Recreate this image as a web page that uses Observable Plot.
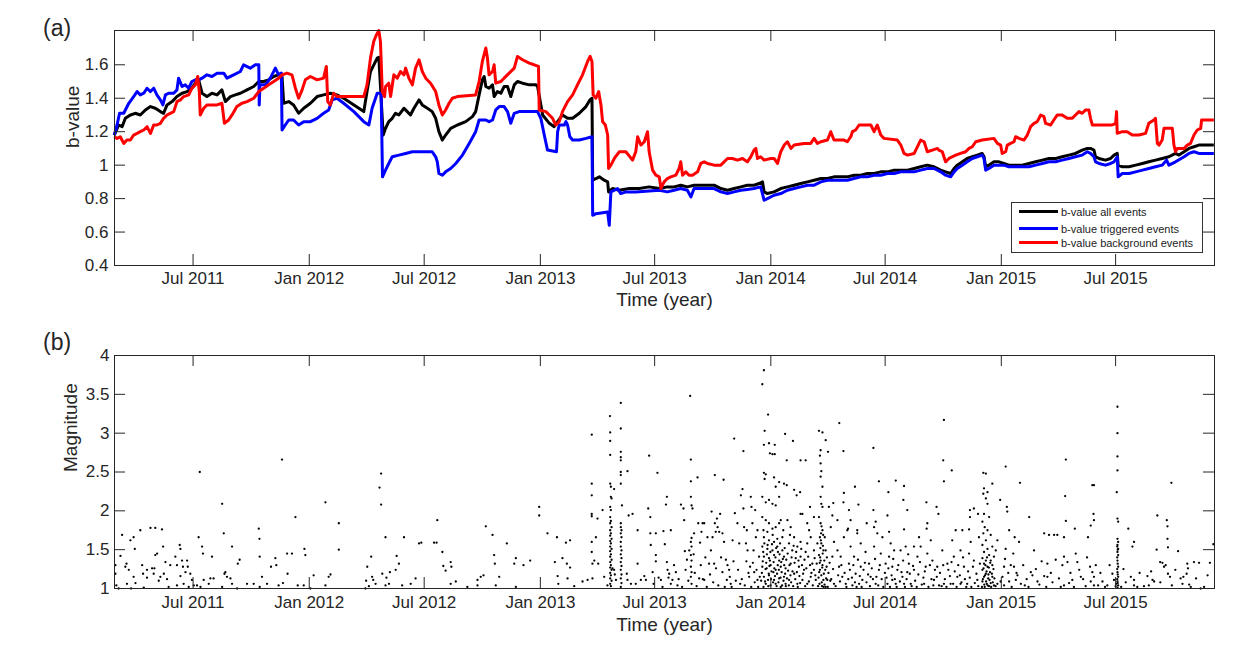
<!DOCTYPE html>
<html><head><meta charset="utf-8">
<script src="https://cdn.jsdelivr.net/npm/d3@7"></script>
<script src="https://cdn.jsdelivr.net/npm/@observablehq/plot@0.6"></script>
<style>
body{margin:0;background:#fff;overflow:hidden;}
#wrap{position:relative;width:1236px;height:658px;font-family:"Liberation Sans",Arial,sans-serif;color:#262626;background:#fff;}
#wrap svg{position:absolute;left:0;display:block;}
.plabel{position:absolute;font-size:23px;line-height:23px;left:43px;}
#legend{position:absolute;left:1011px;top:202px;width:190px;height:49px;border:1px solid #333;background:#fff;font-size:11px;}
#legend .row{position:absolute;left:0;height:14px;}
#legend .sw{position:absolute;left:7px;top:5px;width:39px;height:3px;}
#legend .tx{position:absolute;left:49px;top:0;line-height:14px;white-space:nowrap;color:#222;}
</style></head><body><div id="wrap"></div>
<script>
// ---------- data ----------
const xTickLabels = ["Jul 2011","Jan 2012","Jul 2012","Jan 2013","Jul 2013","Jan 2014","Jul 2014","Jan 2015","Jul 2015"];
const bTicks = [0.4,0.6,0.8,1,1.2,1.4,1.6];
const bTickLabels = ["0.4","0.6","0.8","1","1.2","1.4","1.6"];
const magTicks = [1,1.5,2,2.5,3,3.5,4];
const magTickLabels = ["1","1.5","2","2.5","3","3.5","4"];
const seriesNames = ["b-value all events","b-value triggered events","b-value background events"];
const seriesColors = ["#000000","#0000ff","#ff0000"];

// [decimal year, b-value]
const allEvents = [[2011.154,1.18],[2011.173,1.24],[2011.188,1.23],[2011.202,1.28],[2011.224,1.30],[2011.245,1.31],[2011.267,1.30],[2011.289,1.33],[2011.311,1.35],[2011.332,1.34],[2011.354,1.32],[2011.368,1.31],[2011.383,1.36],[2011.405,1.38],[2011.426,1.41],[2011.448,1.43],[2011.470,1.44],[2011.491,1.46],[2011.506,1.49],[2011.520,1.51],[2011.535,1.43],[2011.556,1.41],[2011.578,1.43],[2011.600,1.42],[2011.621,1.45],[2011.636,1.38],[2011.658,1.41],[2011.679,1.42],[2011.701,1.43],[2011.730,1.45],[2011.759,1.47],[2011.781,1.50],[2011.802,1.50],[2011.824,1.51],[2011.846,1.53],[2011.867,1.54],[2011.882,1.53],[2011.889,1.37],[2011.911,1.38],[2011.932,1.36],[2011.954,1.31],[2011.976,1.34],[2012.005,1.37],[2012.034,1.41],[2012.062,1.42],[2012.091,1.43],[2012.120,1.42],[2012.149,1.40],[2012.236,1.32],[2012.250,1.44],[2012.265,1.56],[2012.294,1.64],[2012.301,1.645],[2012.320,1.18],
[2012.330,1.22],[2012.344,1.26],[2012.359,1.28],[2012.373,1.31],[2012.388,1.30],[2012.410,1.34],[2012.424,1.32],[2012.438,1.30],[2012.453,1.34],[2012.475,1.39],[2012.489,1.36],[2012.511,1.34],[2012.532,1.32],[2012.547,1.28],[2012.561,1.20],[2012.576,1.15],[2012.590,1.18],[2012.612,1.22],[2012.641,1.24],[2012.677,1.26],[2012.706,1.29],[2012.720,1.32],[2012.735,1.42],[2012.749,1.51],[2012.757,1.53],[2012.764,1.47],[2012.778,1.46],[2012.793,1.48],[2012.800,1.41],[2012.814,1.44],[2012.829,1.43],[2012.843,1.47],[2012.858,1.47],[2012.872,1.41],[2012.887,1.48],[2012.901,1.50],[2012.923,1.49],[2012.952,1.48],[2012.981,1.48],[2012.988,1.47],[2013.010,1.30],[2013.039,1.25],[2013.060,1.23],[2013.075,1.26],[2013.096,1.30],[2013.118,1.28],[2013.140,1.28],[2013.169,1.31],[2013.198,1.35],[2013.215,1.39],[2013.224,1.40],[2013.227,0.91],[2013.241,0.92],[2013.256,0.93],[2013.277,0.91],[2013.292,0.90],[2013.296,0.84],[2013.313,0.86],[2013.342,0.85],[2013.386,0.86],[2013.429,0.86],[2013.472,0.87],[2013.516,0.86],
[2013.551,0.87],[2013.580,0.87],[2013.609,0.88],[2013.638,0.87],[2013.667,0.88],[2013.696,0.88],[2013.725,0.88],[2013.754,0.88],[2013.783,0.86],[2013.812,0.85],[2013.841,0.86],[2013.870,0.87],[2013.898,0.88],[2013.927,0.88],[2013.949,0.89],[2013.964,0.90],[2013.971,0.84],[2013.985,0.83],[2014.014,0.84],[2014.043,0.86],[2014.072,0.87],[2014.101,0.88],[2014.130,0.89],[2014.159,0.90],[2014.188,0.91],[2014.217,0.92],[2014.246,0.92],[2014.274,0.93],[2014.303,0.93],[2014.332,0.93],[2014.361,0.94],[2014.390,0.94],[2014.419,0.95],[2014.448,0.95],[2014.477,0.96],[2014.506,0.96],[2014.535,0.97],[2014.564,0.97],[2014.593,0.97],[2014.622,0.98],[2014.650,0.99],[2014.679,1.00],[2014.708,0.99],
[2014.737,0.97],[2014.758,0.96],[2014.780,0.95],[2014.795,0.98],[2014.809,1.00],[2014.831,1.02],[2014.852,1.04],[2014.874,1.05],[2014.896,1.06],[2014.917,1.07],[2014.925,1.05],[2014.932,0.99],[2014.946,1.00],[2014.968,1.02],[2014.990,1.02],[2015.011,1.01],[2015.033,1.00],[2015.062,1.00],[2015.091,1.00],[2015.120,1.01],[2015.149,1.02],[2015.178,1.03],[2015.207,1.04],[2015.236,1.04],[2015.264,1.05],[2015.293,1.06],[2015.322,1.07],[2015.351,1.09],[2015.373,1.10],[2015.387,1.10],[2015.402,1.09],[2015.409,1.05],[2015.424,1.04],[2015.452,1.03],[2015.474,1.04],[2015.489,1.06],[2015.503,1.07],[2015.507,1.00],[2015.525,0.99],[2015.554,0.99],[2015.583,1.00],[2015.612,1.01],[2015.640,1.02],[2015.669,1.03],[2015.698,1.04],[2015.727,1.05],[2015.756,1.07],[2015.771,1.06],[2015.793,1.08],[2015.814,1.10],[2015.836,1.11],[2015.857,1.12],[2015.886,1.12],[2015.922,1.12]];

const triggeredEvents = [[2011.154,1.18],[2011.166,1.24],[2011.177,1.31],[2011.195,1.31],[2011.217,1.37],[2011.238,1.41],[2011.253,1.44],[2011.267,1.42],[2011.282,1.43],[2011.296,1.46],[2011.311,1.44],[2011.325,1.46],[2011.339,1.42],[2011.354,1.39],[2011.365,1.36],[2011.376,1.42],[2011.390,1.43],[2011.412,1.43],[2011.426,1.45],[2011.433,1.52],[2011.448,1.47],[2011.462,1.48],[2011.477,1.46],[2011.491,1.50],[2011.506,1.51],[2011.520,1.51],[2011.535,1.52],[2011.556,1.54],[2011.578,1.53],[2011.600,1.55],[2011.629,1.55],[2011.643,1.52],[2011.672,1.54],[2011.701,1.56],[2011.715,1.60],[2011.744,1.58],[2011.766,1.60],[2011.781,1.60],[2011.783,1.36],[2011.786,1.48],[2011.810,1.48],[2011.831,1.52],[2011.853,1.58],[2011.867,1.54],[2011.879,1.55],[2011.882,1.21],[2011.896,1.24],[2011.911,1.27],[2011.932,1.27],[2011.954,1.24],[2011.976,1.26],[2012.005,1.26],[2012.034,1.28],[2012.062,1.31],[2012.084,1.33],[2012.099,1.39],[2012.120,1.40],[2012.149,1.37],[2012.193,1.32],[2012.236,1.26],[2012.258,1.24],[2012.272,1.34],[2012.294,1.43],[2012.311,1.43],[2012.317,0.93],
[2012.330,0.97],[2012.344,1.01],[2012.359,1.05],[2012.388,1.06],[2012.417,1.07],[2012.446,1.08],[2012.532,1.08],[2012.547,1.05],[2012.554,1.02],[2012.561,0.95],[2012.576,0.94],[2012.590,0.96],[2012.612,0.98],[2012.634,1.01],[2012.663,1.06],[2012.692,1.13],[2012.720,1.20],[2012.735,1.27],[2012.764,1.27],[2012.778,1.26],[2012.793,1.27],[2012.807,1.33],[2012.822,1.35],[2012.843,1.35],[2012.858,1.32],[2012.872,1.25],[2012.887,1.31],[2012.908,1.32],[2012.952,1.32],[2012.988,1.32],[2013.002,1.28],[2013.017,1.18],[2013.031,1.09],[2013.070,1.08],[2013.075,1.20],[2013.082,1.24],[2013.104,1.24],[2013.111,1.26],[2013.118,1.24],[2013.128,1.17],[2013.140,1.15],[2013.169,1.15],[2013.198,1.16],[2013.224,1.17],[2013.227,0.70],[2013.241,0.71],[2013.292,0.72],[2013.299,0.64],[2013.306,0.84],[2013.321,0.85],[2013.335,0.86],[2013.349,0.83],[2013.371,0.84],[2013.414,0.84],[2013.472,0.845],[2013.516,0.85],
[2013.551,0.84],[2013.580,0.85],[2013.609,0.86],[2013.638,0.85],[2013.653,0.81],[2013.667,0.86],[2013.696,0.86],[2013.754,0.86],[2013.783,0.84],[2013.812,0.83],[2013.841,0.84],[2013.870,0.85],[2013.898,0.855],[2013.927,0.86],[2013.956,0.87],[2013.971,0.79],[2013.985,0.80],[2014.014,0.82],[2014.043,0.83],[2014.072,0.85],[2014.101,0.86],[2014.130,0.87],[2014.159,0.88],[2014.188,0.88],[2014.217,0.90],[2014.246,0.91],[2014.303,0.91],[2014.332,0.91],[2014.361,0.92],[2014.390,0.93],[2014.419,0.93],[2014.448,0.94],[2014.477,0.94],[2014.506,0.95],[2014.535,0.95],[2014.564,0.96],[2014.593,0.96],[2014.622,0.96],[2014.650,0.97],[2014.679,0.98],[2014.708,0.98],
[2014.737,0.96],[2014.758,0.94],[2014.780,0.93],[2014.795,0.96],[2014.809,0.98],[2014.831,1.00],[2014.852,1.02],[2014.874,1.04],[2014.896,1.05],[2014.917,1.06],[2014.925,1.04],[2014.932,0.97],[2014.946,0.98],[2014.968,1.00],[2014.990,1.00],[2015.011,1.00],[2015.033,0.99],[2015.091,0.99],[2015.120,0.99],[2015.149,1.00],[2015.178,1.01],[2015.207,1.02],[2015.236,1.02],[2015.264,1.03],[2015.293,1.04],[2015.322,1.05],[2015.351,1.06],[2015.373,1.08],[2015.387,1.07],[2015.402,1.05],[2015.409,1.02],[2015.424,1.01],[2015.452,1.00],[2015.474,1.01],[2015.489,1.02],[2015.503,1.05],[2015.507,0.93],[2015.525,0.95],[2015.554,0.95],[2015.583,0.96],[2015.612,0.97],[2015.640,0.98],[2015.669,0.99],[2015.698,1.00],[2015.717,1.03],[2015.727,1.00],[2015.756,1.02],[2015.793,1.05],[2015.814,1.07],[2015.836,1.08],[2015.857,1.07],[2015.922,1.07]];

const backgroundEvents = [[2011.154,1.17],[2011.166,1.16],[2011.180,1.17],[2011.195,1.13],[2011.209,1.15],[2011.224,1.15],[2011.238,1.18],[2011.253,1.19],[2011.267,1.20],[2011.282,1.21],[2011.296,1.23],[2011.311,1.19],[2011.325,1.24],[2011.339,1.24],[2011.354,1.25],[2011.368,1.28],[2011.383,1.30],[2011.397,1.31],[2011.412,1.32],[2011.426,1.38],[2011.441,1.39],[2011.455,1.41],[2011.477,1.42],[2011.491,1.46],[2011.506,1.48],[2011.516,1.53],[2011.523,1.44],[2011.527,1.30],[2011.542,1.34],[2011.556,1.36],[2011.600,1.36],[2011.621,1.37],[2011.632,1.25],[2011.650,1.27],[2011.665,1.30],[2011.686,1.35],[2011.708,1.37],[2011.730,1.38],[2011.759,1.40],[2011.781,1.44],[2011.802,1.46],[2011.824,1.48],[2011.846,1.50],[2011.867,1.52],[2011.882,1.54],[2011.903,1.55],[2011.925,1.54],[2011.940,1.46],[2011.954,1.40],[2011.969,1.45],[2011.983,1.51],[2012.005,1.53],[2012.034,1.51],[2012.062,1.52],[2012.074,1.59],[2012.080,1.38],[2012.091,1.36],[2012.106,1.43],[2012.120,1.41],[2012.236,1.41],[2012.250,1.48],[2012.265,1.64],[2012.279,1.74],[2012.291,1.78],[2012.301,1.805],[2012.308,1.74],[2012.316,1.44],[2012.326,1.41],
[2012.330,1.47],[2012.344,1.49],[2012.352,1.41],[2012.366,1.54],[2012.381,1.52],[2012.395,1.56],[2012.410,1.54],[2012.417,1.58],[2012.431,1.52],[2012.446,1.48],[2012.460,1.58],[2012.475,1.63],[2012.489,1.56],[2012.504,1.52],[2012.525,1.49],[2012.547,1.44],[2012.561,1.36],[2012.576,1.30],[2012.590,1.33],[2012.605,1.37],[2012.619,1.40],[2012.641,1.41],[2012.720,1.42],[2012.735,1.50],[2012.749,1.62],[2012.764,1.70],[2012.771,1.64],[2012.778,1.54],[2012.793,1.56],[2012.800,1.60],[2012.807,1.49],[2012.829,1.50],[2012.843,1.52],[2012.865,1.55],[2012.887,1.58],[2012.901,1.65],[2012.923,1.63],[2012.952,1.61],[2012.973,1.60],[2012.992,1.59],[2012.995,1.33],[2013.024,1.32],[2013.053,1.28],[2013.067,1.24],[2013.082,1.26],[2013.096,1.32],[2013.118,1.38],[2013.140,1.42],[2013.161,1.48],[2013.183,1.54],[2013.205,1.62],[2013.216,1.65],[2013.224,1.62],[2013.229,1.42],[2013.241,1.40],[2013.253,1.44],[2013.263,1.36],[2013.270,1.26],[2013.282,1.24],[2013.292,1.18],[2013.296,0.98],[2013.306,1.00],[2013.321,1.04],[2013.342,1.08],[2013.371,1.08],[2013.400,1.03],[2013.414,1.08],[2013.422,1.17],[2013.436,1.12],[2013.451,1.14],[2013.465,1.20],[2013.472,1.08],[2013.487,0.97],[2013.501,0.94],[2013.516,0.93],[2013.523,0.86],
[2013.537,0.90],[2013.551,0.92],[2013.566,0.93],[2013.588,0.94],[2013.602,0.98],[2013.609,1.02],[2013.617,0.94],[2013.631,0.96],[2013.645,0.94],[2013.660,0.94],[2013.682,0.96],[2013.696,1.01],[2013.711,1.02],[2013.725,1.01],[2013.754,1.00],[2013.783,1.00],[2013.812,1.04],[2013.833,1.04],[2013.855,1.03],[2013.877,1.04],[2013.898,1.02],[2013.913,1.05],[2013.927,1.09],[2013.935,1.10],[2013.942,1.04],[2013.956,1.05],[2013.971,1.03],[2014.000,1.04],[2014.014,1.04],[2014.029,1.01],[2014.043,1.08],[2014.058,1.12],[2014.072,1.14],[2014.087,1.10],[2014.101,1.12],[2014.144,1.13],[2014.173,1.13],[2014.188,1.16],[2014.202,1.13],[2014.217,1.14],[2014.246,1.15],[2014.260,1.20],[2014.274,1.15],[2014.318,1.15],[2014.332,1.14],[2014.347,1.17],[2014.354,1.20],[2014.368,1.21],[2014.383,1.24],[2014.434,1.24],[2014.448,1.20],[2014.462,1.24],[2014.477,1.18],[2014.491,1.16],[2014.549,1.15],[2014.564,1.12],[2014.578,1.07],[2014.593,1.06],[2014.622,1.07],[2014.650,1.15],[2014.665,1.14],[2014.679,1.08],[2014.701,1.09],[2014.723,1.10],
[2014.729,1.09],[2014.744,1.08],[2014.758,1.02],[2014.773,1.04],[2014.787,1.05],[2014.802,1.06],[2014.823,1.07],[2014.845,1.08],[2014.860,1.10],[2014.874,1.11],[2014.889,1.14],[2014.917,1.15],[2014.968,1.16],[2014.983,1.13],[2014.997,1.12],[2015.004,1.07],[2015.019,1.08],[2015.026,1.12],[2015.040,1.13],[2015.055,1.14],[2015.062,1.17],[2015.077,1.16],[2015.098,1.15],[2015.113,1.18],[2015.127,1.23],[2015.142,1.25],[2015.156,1.26],[2015.171,1.30],[2015.185,1.29],[2015.192,1.25],[2015.214,1.24],[2015.228,1.27],[2015.243,1.30],[2015.264,1.30],[2015.286,1.28],[2015.308,1.28],[2015.322,1.30],[2015.337,1.32],[2015.351,1.31],[2015.366,1.33],[2015.380,1.33],[2015.387,1.28],[2015.395,1.24],[2015.481,1.24],[2015.496,1.25],[2015.500,1.32],[2015.503,1.19],[2015.525,1.20],[2015.546,1.20],[2015.568,1.18],[2015.597,1.18],[2015.626,1.19],[2015.640,1.25],[2015.662,1.27],[2015.669,1.28],[2015.677,1.13],[2015.684,1.12],[2015.698,1.15],[2015.706,1.22],[2015.742,1.22],[2015.749,1.12],[2015.756,1.08],[2015.763,1.10],[2015.793,1.10],[2015.807,1.12],[2015.821,1.13],[2015.836,1.18],[2015.850,1.21],[2015.865,1.22],[2015.869,1.27],[2015.922,1.27]];

// [decimal year, magnitude]
const quakes = [
[2011.159,1.30],[2011.159,1.19],[2011.163,1.04],[2011.173,1.00],[2011.188,1.69],[2011.181,1.42],[2011.202,1.28],[2011.207,1.32],[2011.209,1.06],[2011.217,1.24],[2011.224,1.62],[2011.227,1.00],[2011.238,1.66],[2011.238,1.15],[2011.243,1.51],[2011.246,1.07],[2011.267,1.75],[2011.275,1.30],[2011.279,1.19],[2011.282,1.01],[2011.296,1.24],[2011.296,1.14],[2011.311,1.78],[2011.318,1.26],[2011.325,1.19],[2011.328,1.26],[2011.332,1.78],[2011.361,1.76],[2011.332,1.43],[2011.340,1.45],[2011.347,1.10],[2011.354,1.15],[2011.366,1.54],[2011.369,1.19],[2011.376,1.34],[2011.383,1.12],[2011.390,1.02],[2011.397,1.30],[2011.419,1.41],[2011.426,1.30],[2011.426,1.04],[2011.438,1.56],[2011.441,1.51],[2011.441,1.16],[2011.448,1.36],[2011.452,1.28],[2011.455,1.06],[2011.463,1.21],[2011.470,1.36],[2011.473,1.28],[2011.477,1.02],[2011.484,1.19],[2011.491,1.11],[2011.499,1.04],[2011.513,1.04],[2011.520,1.66],[2011.525,2.50],[2011.528,1.02],[2011.535,1.54],[2011.539,1.45],[2011.542,1.11],[2011.564,1.06],[2011.571,1.13],[2011.578,1.41],[2011.585,1.13],[2011.622,2.09],[2011.622,1.02],[2011.629,1.71],[2011.632,1.19],[2011.636,1.21],[2011.643,1.15],[2011.658,1.13],[2011.665,1.54],[2011.665,1.06],[2011.687,1.00],[2011.690,1.32],[2011.698,1.37],[2011.730,1.06],[2011.759,1.06],[2011.781,1.77],[2011.784,1.64],[2011.785,1.41],[2011.785,1.02],[2011.795,1.15],[2011.817,1.06],[2011.834,1.28],[2011.853,1.39],[2011.857,1.30],[2011.867,1.04],[2011.882,2.66],[2011.886,1.07],[2011.904,1.45],[2011.906,1.19],[2011.925,1.45],[2011.940,1.92],[2011.950,1.04],[2011.976,1.04],[2011.979,1.51],[2011.983,1.43],[2012.005,1.00],[2012.019,1.17],[2012.070,2.11],[2012.070,1.04],[2012.084,1.15],[2012.092,1.18],[2012.128,1.84],[2012.128,1.50],[2012.243,1.00],[2012.246,1.10],[2012.251,1.28],[2012.258,1.03],[2012.268,1.41],[2012.272,1.15],[2012.277,1.11],[2012.287,1.06],[2012.304,2.30],[2012.311,2.48],[2012.311,2.08],[2012.316,1.19],[2012.330,1.66],[2012.330,1.04],[2012.334,1.14],[2012.345,1.06],[2012.349,1.21],[2012.374,1.24],[2012.378,1.42],[2012.388,1.32],[2012.402,1.04],[2012.410,1.66],[2012.439,1.06],[2012.460,1.13],[2012.475,1.58],
[2012.485,1.59],[2012.540,1.59],[2012.551,1.59],[2012.554,1.88],[2012.576,1.47],[2012.580,1.29],[2012.590,1.23],[2012.612,1.34],[2012.615,1.28],[2012.612,1.06],[2012.634,1.09],[2012.684,1.02],[2012.728,1.04],[2012.728,1.11],[2012.742,1.15],[2012.754,1.17],[2012.764,1.80],[2012.793,1.69],[2012.800,1.43],[2012.803,1.32],[2012.807,1.04],[2012.822,1.15],[2012.855,1.58],[2012.887,1.32],[2012.894,1.39],[2012.894,1.02],[2012.927,1.30],[2012.956,1.36],[2012.995,2.05],[2012.995,1.94],[2013.031,1.71],[2013.063,1.34],[2013.072,1.66],[2013.075,1.16],[2013.078,1.06],
[2013.096,1.39],[2013.111,1.59],[2013.129,1.62],[2013.115,1.32],[2013.129,1.27],[2013.118,1.13],[2013.147,1.03],[2013.183,1.09],[2013.205,1.11],[2013.226,1.13],[2013.223,2.98],[2013.223,2.35],[2013.223,2.20],[2013.223,1.96],[2013.223,1.93],[2013.223,1.60],[2013.223,1.47],[2013.226,1.32],[2013.234,1.36],[2013.241,1.66],[2013.248,1.90],[2013.251,1.32],[2013.270,2.01],[2013.277,1.15],[2013.291,1.04],
[2013.302,3.22],[2013.303,3.01],[2013.303,2.90],[2013.303,2.72],[2013.303,2.35],[2013.306,2.31],[2013.306,2.18],[2013.309,2.16],[2013.303,2.05],[2013.306,2.01],[2013.303,1.92],[2013.306,1.87],[2013.303,1.84],[2013.309,1.79],[2013.303,1.75],[2013.306,1.71],[2013.303,1.68],[2013.309,1.64],[2013.303,1.61],[2013.306,1.58],[2013.303,1.54],[2013.309,1.51],[2013.303,1.48],[2013.306,1.44],[2013.303,1.41],[2013.309,1.37],[2013.303,1.34],[2013.306,1.30],[2013.303,1.27],[2013.309,1.24],[2013.303,1.20],[2013.306,1.17],[2013.303,1.13],[2013.309,1.10],[2013.303,1.06],[2013.306,1.03],[2013.313,1.26],[2013.320,1.24],[2013.328,1.11],[2013.323,1.18],[2013.320,2.28],
[2013.349,3.39],[2013.349,3.06],[2013.349,2.76],[2013.349,2.69],[2013.349,2.65],[2013.349,2.50],[2013.349,2.46],[2013.349,2.35],[2013.354,2.07],[2013.349,1.84],[2013.349,1.79],[2013.352,1.75],[2013.349,1.71],[2013.352,1.66],[2013.349,1.60],[2013.349,1.54],[2013.352,1.49],[2013.349,1.44],[2013.352,1.39],[2013.349,1.34],[2013.352,1.29],[2013.349,1.24],[2013.352,1.18],[2013.349,1.13],[2013.352,1.07],[2013.349,1.02],
[2013.378,2.51],[2013.383,1.94],[2013.400,1.96],[2013.375,1.19],[2013.378,1.11],[2013.393,1.06],[2013.414,1.06],[2013.422,1.75],[2013.422,1.32],[2013.436,1.11],[2013.451,1.16],[2013.458,1.11],[2013.468,2.03],[2013.472,2.71],[2013.477,1.92],[2013.477,1.71],[2013.479,1.56],[2013.487,1.21],[2013.491,1.06],[2013.501,1.71],[2013.501,1.43],[2013.501,1.35],[2013.508,2.49],[2013.513,1.14],[2013.523,1.11],[2013.534,1.74],[2013.540,1.57],[2013.549,2.18],[2013.545,2.08],[2013.549,1.34],[2013.552,1.24],[2013.559,1.19],[2013.566,1.75],[2013.566,1.06],[2013.573,1.11],[2013.588,1.21],[2013.595,1.04],[2013.610,2.08],[2013.621,2.03],[2013.624,1.88],[2013.627,1.48],[2013.636,1.37],[2013.646,1.49],
[2013.650,3.48],[2013.653,2.66],[2013.653,2.38],[2013.653,2.18],[2013.656,2.07],[2013.660,2.03],[2013.656,1.65],[2013.653,1.60],[2013.656,1.54],[2013.653,1.43],[2013.656,1.36],[2013.653,1.28],[2013.656,1.21],[2013.653,1.15],[2013.656,1.06],[2013.665,1.44],[2013.667,1.71],[2013.682,2.43],[2013.685,1.84],[2013.689,1.13],[2013.693,1.59],[2013.699,1.73],[2013.704,1.84],[2013.711,1.84],[2013.711,1.11],[2013.725,1.66],[2013.732,1.32],[2013.740,1.49],[2013.743,1.99],[2013.747,1.66],[2013.754,1.32],[2013.757,1.84],[2013.757,2.46],[2013.761,1.73],[2013.766,1.90],[2013.769,1.79],[2013.776,1.73],[2013.780,1.96],[2013.790,1.71],[2013.790,1.21],[2013.795,2.40],[2013.797,1.60],[2013.805,1.37],[2013.809,1.11],[2013.819,1.24],[2013.826,1.06],[2013.834,1.62],[2013.841,2.93],[2013.844,1.97],[2013.855,1.84],[2013.863,1.58],[2013.867,1.06],[2013.870,2.20],[2013.877,2.28],[2013.881,2.03],[2013.881,2.77],[2013.884,1.79],[2013.892,1.58],[2013.896,1.75],[2013.899,1.49],[2013.906,1.15],[2013.910,1.28],[2013.913,2.18],[2013.916,2.05],[2013.920,1.84],[2013.925,1.49],[2013.928,1.21],[2013.932,2.01],[2013.935,1.66],[2013.942,1.75],[2013.942,1.11],[2013.949,1.41],
[2013.530,1.02],[2013.556,1.14],[2013.580,1.30],[2013.600,1.12],[2013.615,1.02],[2013.630,1.24],[2013.642,1.10],[2013.670,1.20],[2013.678,1.03],[2013.696,1.30],[2013.705,1.12],[2013.716,1.40],[2013.722,1.02],[2013.736,1.18],[2013.750,1.08],[2013.762,1.26],[2013.772,1.04],[2013.784,1.40],[2013.800,1.02],[2013.812,1.30],[2013.822,1.15],[2013.830,1.02],[2013.838,1.35],[2013.848,1.10],[2013.858,1.24],[2013.874,1.12],[2013.887,1.04],[2013.894,1.35],[2013.903,1.20],[2013.915,1.02],[2013.922,1.33],[2013.930,1.08],[2013.938,1.24],[2013.945,1.02],[2013.952,1.15],
[2013.970,3.81],[2013.963,3.63],[2013.988,3.24],[2013.973,3.03],[2013.970,2.85],[2013.992,2.87],[2014.017,2.85],[2013.996,2.74],[2014.007,2.73],[2014.017,2.73],[2014.062,2.99],[2014.096,2.90],[2014.069,2.65],[2014.129,2.65],[2014.151,2.65],[2014.209,3.03],[2014.224,3.01],[2014.238,2.91],[2014.216,2.78],[2014.248,2.76],[2014.213,2.71],[2014.297,3.13],[2014.315,2.77],[2014.445,2.81],[2014.751,3.17],[2014.748,2.65],[2014.785,2.52],[2014.751,2.38],
[2013.970,2.49],[2013.978,2.47],[2013.973,2.41],[2014.014,2.43],[2014.036,2.37],[2014.021,2.31],[2014.057,2.35],[2014.069,2.33],[2014.101,2.27],[2014.112,2.20],[2014.127,2.24],[2014.216,2.61],[2014.219,2.51],[2014.216,2.44],[2014.224,2.31],[2014.216,2.18],[2014.219,2.09],[2014.224,2.05],[2014.317,2.23],[2014.365,2.31],[2014.469,2.38],[2014.510,2.24],[2014.542,2.39],[2014.578,2.32],[2014.575,2.14],[2014.592,2.01],[2014.675,2.11],[2014.506,1.94],[2014.445,2.01],[2014.380,2.08],[2014.339,2.01],[2014.271,2.10],[2014.315,2.11],[2014.170,2.05],[2014.129,1.96],[2013.963,2.18],[2013.978,2.11],[2013.992,2.14],[2014.007,2.09],[2014.021,2.07],[2014.036,2.18],[2014.679,1.84],[2014.676,1.77],[2014.719,2.05],[2014.727,1.96],[2014.802,1.75],[2014.831,1.75],[2014.860,1.76],[2014.864,2.01],[2014.881,2.03],[2014.864,1.92],[2014.899,1.96],[2014.578,1.76],[2014.513,1.73],[2014.455,1.86],[2014.448,1.79],[2014.416,1.84],[2014.375,1.71],[2014.346,1.88],[2014.335,1.77],[2014.289,1.88],[2014.267,1.94],[2014.187,1.92],[2014.158,1.84],[2014.137,1.96],
[2013.963,1.92],[2013.978,1.88],[2013.992,1.84],[2013.968,1.75],[2013.985,1.73],[2014.007,1.77],[2014.021,1.79],[2014.036,1.84],[2014.043,1.88],[2013.970,1.66],[2013.992,1.62],[2014.014,1.60],[2014.028,1.64],[2014.050,1.66],[2013.963,1.54],[2013.985,1.51],[2014.007,1.49],[2014.028,1.54],[2014.050,1.49],[2013.970,1.41],[2013.992,1.39],[2014.014,1.43],[2014.036,1.36],[2014.057,1.41],[2013.963,1.28],[2013.982,1.26],[2013.999,1.30],[2014.021,1.24],[2014.043,1.28],[2014.064,1.26],[2013.970,1.15],[2013.992,1.17],[2014.014,1.11],[2014.036,1.13],[2014.057,1.15],[2013.978,1.06],[2013.999,1.04],[2014.021,1.06],[2014.043,1.02],[2014.064,1.06],[2013.968,1.02],[2013.988,1.11],[2014.011,1.21],[2014.031,1.47],[2014.054,1.75],[2014.072,1.88],[2014.086,1.79],[2014.101,1.66],[2014.079,1.58],[2014.093,1.49],[2014.115,1.54],[2014.129,1.60],[2014.108,1.39],[2014.086,1.32],[2014.122,1.28],[2014.101,1.19],[2014.079,1.11],[2014.115,1.06],[2014.137,1.11],[2014.144,1.24],[2014.129,1.41],[2014.151,1.47],[2014.158,1.58],[2014.173,1.66],[2014.166,1.75],[2014.187,1.49],[2014.180,1.32],[2014.173,1.15],[2014.158,1.06],[2014.195,1.11],[2014.187,1.24],
[2013.958,1.10],[2013.961,1.20],[2013.965,1.35],[2013.967,1.47],[2013.972,1.58],[2013.975,1.09],[2013.977,1.25],[2013.980,1.33],[2013.983,1.44],[2013.986,1.56],[2013.989,1.03],[2013.991,1.19],[2013.994,1.29],[2013.996,1.36],[2013.998,1.47],[2014.001,1.12],[2014.003,1.22],[2014.005,1.57],[2014.008,1.69],[2014.010,1.08],[2014.012,1.34],[2014.015,1.26],[2014.018,1.16],[2014.020,1.40],[2014.023,1.52],[2014.025,1.03],[2014.027,1.19],[2014.030,1.30],[2014.033,1.08],[2014.035,1.24],[2014.038,1.44],[2014.040,1.58],[2014.042,1.14],[2014.045,1.34],[2014.047,1.21],[2014.049,1.04],[2014.052,1.38],[2014.055,1.10],[2014.058,1.30],[2014.060,1.52],[2014.062,1.19],[2014.065,1.03],[2014.067,1.37],[2014.070,1.13],[2014.073,1.45],[2014.075,1.23],[2014.078,1.04],[2014.081,1.30],[2014.083,1.69],[2014.085,1.17],[2014.088,1.08],[2014.090,1.40],[2014.094,1.22],[2014.097,1.03],[2014.099,1.55],[2014.103,1.33],[2014.106,1.12],[2014.110,1.47],[2014.113,1.21],[2014.117,1.02],[2014.120,1.36],[2014.124,1.16],[2014.127,1.07],[2014.132,1.51],[2014.135,1.30],[2014.140,1.19],[2014.146,1.37],[2014.149,1.03],[2014.154,1.26],[2014.162,1.41],[2014.165,1.09],[2014.170,1.30],[2014.176,1.20],[2014.182,1.04],[2014.190,1.39],[2014.193,1.17],
[2014.209,1.92],[2014.216,1.84],[2014.224,1.75],[2014.213,1.66],[2014.219,1.58],[2014.228,1.49],[2014.209,1.43],[2014.216,1.36],[2014.224,1.30],[2014.213,1.24],[2014.219,1.17],[2014.228,1.11],[2014.211,1.06],[2014.222,1.03],[2014.234,1.66],[2014.238,1.49],[2014.242,1.28],[2014.202,1.58],[2014.199,1.32],[2014.245,1.11],[2014.238,1.02],
[2014.205,1.03],[2014.207,1.14],[2014.210,1.21],[2014.212,1.33],[2014.214,1.40],[2014.215,1.52],[2014.217,1.62],[2014.218,1.71],[2014.220,1.80],[2014.221,1.08],[2014.223,1.27],[2014.225,1.45],[2014.226,1.55],[2014.227,1.69],[2014.229,1.02],[2014.230,1.19],[2014.232,1.36],[2014.233,1.05],[2014.236,1.24],[2014.240,1.13],[2014.243,1.40],[2014.247,1.02],[2014.250,1.20],[2014.255,1.33],[2014.258,1.10],
[2014.252,2.05],[2014.260,1.79],[2014.274,1.60],[2014.267,1.41],[2014.289,1.49],[2014.296,1.28],[2014.310,1.15],[2014.274,1.06],[2014.325,1.06],[2014.339,1.32],[2014.317,1.66],[2014.346,1.54],[2014.361,1.41],[2014.368,1.19],[2014.383,1.06],[2014.390,1.28],[2014.332,1.75],[2014.375,1.75],[2014.390,1.58],[2014.354,1.04],[2014.303,1.41],
[2014.397,1.11],[2014.411,1.47],[2014.426,1.32],[2014.433,1.15],[2014.448,1.54],[2014.455,1.06],[2014.469,1.24],[2014.477,1.45],[2014.484,1.66],[2014.462,1.71],[2014.498,1.32],[2014.506,1.06],[2014.520,1.58],[2014.527,1.28],[2014.535,1.49],[2014.527,1.11],[2014.513,1.41],[2014.542,1.06],[2014.549,1.24],
[2014.563,1.49],[2014.571,1.15],[2014.585,1.54],[2014.599,1.32],[2014.607,1.06],[2014.621,1.24],[2014.636,1.41],[2014.650,1.54],[2014.665,1.06],[2014.672,1.28],[2014.679,1.45],[2014.621,1.54],[2014.643,1.66],[2014.578,1.06],[2014.592,1.21],
[2014.694,1.62],[2014.701,1.36],[2014.708,1.11],[2014.722,1.28],[2014.744,1.49],[2014.751,1.06],[2014.766,1.32],[2014.787,1.62],[2014.794,1.41],[2014.809,1.15],[2014.823,1.49],[2014.838,1.28],[2014.852,1.06],[2014.867,1.60],[2014.881,1.36],[2014.896,1.11],[2014.903,1.66],[2014.823,1.06],[2014.780,1.06],[2014.730,1.04],[2014.860,1.45],
[2014.262,1.12],[2014.270,1.25],[2014.281,1.03],[2014.292,1.17],[2014.300,1.09],[2014.306,1.30],[2014.320,1.20],[2014.328,1.02],[2014.336,1.12],[2014.343,1.24],[2014.352,1.14],[2014.358,1.30],[2014.365,1.08],[2014.372,1.02],[2014.378,1.37],[2014.386,1.16],[2014.394,1.02],[2014.402,1.24],[2014.408,1.33],[2014.415,1.08],[2014.422,1.18],[2014.430,1.03],[2014.438,1.26],[2014.443,1.12],[2014.452,1.38],[2014.458,1.15],[2014.466,1.04],[2014.473,1.30],[2014.481,1.12],[2014.488,1.02],[2014.495,1.20],[2014.502,1.14],[2014.510,1.26],[2014.517,1.02],[2014.524,1.17],[2014.531,1.38],[2014.538,1.12],[2014.546,1.02],[2014.553,1.30],[2014.560,1.09],[2014.567,1.21],[2014.574,1.36],[2014.582,1.02],[2014.589,1.12],[2014.596,1.44],[2014.603,1.19],[2014.611,1.03],[2014.617,1.29],[2014.626,1.10],[2014.633,1.02],[2014.640,1.18],[2014.647,1.34],[2014.655,1.05],[2014.662,1.14],[2014.668,1.22],[2014.684,1.02],[2014.690,1.30],[2014.697,1.12],[2014.705,1.04],[2014.712,1.24],[2014.720,1.15],[2014.734,1.20],[2014.741,1.03],[2014.748,1.30],[2014.755,1.12],[2014.762,1.02],[2014.770,1.24],[2014.777,1.16],[2014.784,1.34],[2014.791,1.06],[2014.798,1.22],[2014.806,1.02],[2014.813,1.30],[2014.820,1.17],[2014.827,1.08],[2014.834,1.40],[2014.842,1.12],[2014.848,1.02],[2014.856,1.22],[2014.863,1.14],[2014.870,1.02],[2014.877,1.28],[2014.885,1.07],[2014.892,1.19],[2014.900,1.03],[2014.907,1.32],
[2014.922,2.49],[2014.933,2.48],[2014.925,2.29],[2014.940,2.24],[2014.922,2.22],[2014.961,2.35],[2014.933,2.16],[2014.940,2.09],[2014.925,1.96],[2014.947,1.92],[2014.918,1.86],[2014.928,1.79],[2014.940,1.75],[2014.922,1.71],[2014.954,1.69],[2014.933,1.62],[2014.918,1.56],[2014.940,1.51],[2014.961,1.54],[2014.925,1.47],[2014.947,1.43],[2014.918,1.39],[2014.933,1.36],[2014.954,1.36],[2014.968,1.41],[2014.925,1.32],[2014.940,1.28],[2014.961,1.30],[2014.918,1.24],[2014.933,1.19],[2014.951,1.21],[2014.925,1.15],[2014.943,1.13],[2014.961,1.15],[2014.918,1.09],[2014.937,1.06],[2014.954,1.07],[2014.928,1.02],[2014.947,1.03],[2014.968,1.04],[2014.983,1.06],[2014.997,1.09],
[2014.916,1.02],[2014.920,1.12],[2014.923,1.26],[2014.926,1.05],[2014.929,1.17],[2014.931,1.30],[2014.934,1.09],[2014.936,1.22],[2014.938,1.40],[2014.941,1.04],[2014.944,1.18],[2014.946,1.27],[2014.949,1.11],[2014.952,1.33],[2014.956,1.02],[2014.959,1.19],[2014.963,1.08],[2014.966,1.25],[2014.970,1.13],[2014.975,1.03],
[2014.976,1.49],[2014.983,1.62],[2014.995,2.14],[2015.019,2.57],[2015.024,2.05],[2015.026,1.99],[2015.034,1.75],[2015.019,1.51],[2015.012,1.28],[2015.041,1.30],[2015.055,1.28],[2015.034,1.09],[2015.063,1.11],[2015.012,1.04],[2015.058,1.66],[2015.081,2.36],[2015.077,1.60],[2015.070,1.17],[2015.102,1.04],[2015.121,1.92],[2015.128,1.21],[2015.135,1.17],[2015.142,1.49],[2015.157,1.09],[2015.186,1.71],[2015.186,1.16],[2015.200,1.15],[2015.207,1.69],[2015.200,1.32],[2015.229,1.69],[2015.236,1.37],[2015.243,1.69],[2015.280,2.66],[2015.277,2.19],[2015.280,1.87],[2015.272,1.66],[2015.272,1.41],[2015.287,1.34],[2015.272,1.04],[2015.294,1.07],[2015.308,1.11],[2015.319,1.77],[2015.323,1.45],[2015.330,1.34],[2015.345,1.15],[2015.366,1.03],[2015.376,1.66],[2015.388,1.81],[2015.395,2.33],[2015.402,2.33],[2015.400,1.96],[2015.402,1.88],[2015.385,1.28],[2015.395,1.21],[2015.402,1.15],[2015.388,1.09],[2015.402,1.04],[2015.439,1.09],[2015.460,1.04],[2015.482,1.19],[2015.489,1.11],
[2015.005,1.15],[2015.016,1.38],[2015.030,1.20],[2015.045,1.02],[2015.052,1.45],[2015.066,1.20],[2015.085,1.06],[2015.095,1.30],[2015.110,1.12],[2015.118,1.02],[2015.150,1.25],[2015.165,1.05],[2015.175,1.35],[2015.195,1.02],[2015.215,1.20],[2015.222,1.08],[2015.250,1.13],[2015.258,1.02],[2015.265,1.30],[2015.300,1.20],[2015.315,1.02],[2015.338,1.24],[2015.355,1.12],[2015.372,1.40],[2015.410,1.30],[2015.420,1.04],[2015.430,1.20],[2015.450,1.02],[2015.470,1.30],
[2015.504,3.34],[2015.504,3.00],[2015.504,2.70],[2015.504,2.52],[2015.501,2.24],[2015.504,1.90],[2015.507,1.86],[2015.504,1.64],[2015.507,1.60],[2015.504,1.56],[2015.507,1.51],[2015.504,1.47],[2015.507,1.43],[2015.504,1.36],[2015.507,1.28],[2015.504,1.21],[2015.507,1.15],[2015.504,1.09],[2015.507,1.04],[2015.504,1.01],[2015.496,1.03],
[2015.503,1.12],[2015.505,1.18],[2015.503,1.25],[2015.505,1.32],[2015.503,1.40],[2015.505,1.50],[2015.503,1.54],[2015.505,1.07],[2015.498,1.06],
[2015.551,1.77],[2015.569,1.54],[2015.576,1.60],[2015.562,1.15],[2015.576,1.11],[2015.576,1.04],[2015.619,1.03],[2015.634,1.16],[2015.656,1.11],[2015.663,1.09],[2015.674,1.50],[2015.677,1.94],[2015.689,1.34],[2015.699,1.33],[2015.706,1.28],[2015.718,1.88],[2015.721,1.80],[2015.721,1.64],[2015.723,1.53],[2015.713,1.30],[2015.723,1.19],[2015.732,1.15],[2015.738,2.36],[2015.767,1.48],[2015.778,1.13],[2015.786,1.06],[2015.807,1.32],[2015.810,1.26],[2015.804,1.19],[2015.836,1.34],[2015.858,1.33],[2015.822,1.02],[2015.865,1.00],[2015.920,1.57],
[2015.520,1.02],[2015.530,1.25],[2015.540,1.08],[2015.590,1.02],[2015.600,1.20],[2015.640,1.04],[2015.650,1.22],[2015.690,1.08],[2015.740,1.04],[2015.755,1.24],[2015.790,1.15],[2015.815,1.05],[2015.845,1.13],[2015.880,1.02],[2015.895,1.17],[2015.905,1.33]
];

// ---------- helpers ----------
const FONT = '"Liberation Sans", Arial, sans-serif';
const INK = "#262626";
function yd(y) { const yr = Math.floor(y); const s = Date.UTC(yr,0,1), e = Date.UTC(yr+1,0,1); return new Date(s + (y - yr) * (e - s)); }
const monthIdx = {Jan: 0, Jul: 6};
const xTickDates = xTickLabels.map(s => { const [m, y] = s.split(" "); return new Date(Date.UTC(+y, monthIdx[m], 1)); });
const xDomain = [yd(2011.155), yd(2015.925)];

const W = 1236, ML = 114, MR = 22, PW = W - ML - MR;

function panel({height, marginTop, marginBottom, yDomain, yTicks, yLabels, yTitle, yTitleDx, xLabDy, xTitleDy, yLabDx, marks}) {
  const PH = height - marginTop - marginBottom;
  const T = 11;
  return Plot.plot({
    width: W, height, marginLeft: ML, marginRight: MR, marginTop, marginBottom,
    style: {fontFamily: FONT, background: "transparent", overflow: "visible"},
    x: {type: "utc", domain: xDomain, axis: null},
    y: {domain: yDomain, axis: null},
    marks: [
      ...marks,
      Plot.tickX(xTickDates, {x: d => d, insetTop: PH - T, stroke: INK, strokeWidth: 1}),
      Plot.tickX(xTickDates, {x: d => d, insetBottom: PH - T, stroke: INK, strokeWidth: 1}),
      Plot.tickY(yTicks, {y: d => d, insetRight: PW - T, stroke: INK, strokeWidth: 1}),
      Plot.tickY(yTicks, {y: d => d, insetLeft: PW - T, stroke: INK, strokeWidth: 1}),
      Plot.frame({stroke: INK, strokeWidth: 1}),
      Plot.text(xTickDates, {x: d => d, frameAnchor: "bottom", dy: xLabDy, text: (d, i) => xTickLabels[i], fontSize: 17, fill: INK}),
      Plot.text(yTicks, {y: d => d, frameAnchor: "left", dx: yLabDx, textAnchor: "end", text: (d, i) => yLabels[i], fontSize: 17, fill: INK}),
      Plot.text(["Time (year)"], {frameAnchor: "bottom", dy: xTitleDy, text: d => d, fontSize: 19, fill: INK}),
      Plot.text([yTitle], {frameAnchor: "left", dx: yTitleDx, rotate: -90, text: d => d, fontSize: 19, fill: INK})
    ]
  });
}

const series = [allEvents, triggeredEvents, backgroundEvents];
const lineMarks = series.map((s, i) => Plot.line(s, {x: d => yd(d[0]), y: d => d[1], stroke: seriesColors[i], strokeWidth: 3, strokeLinejoin: "round", strokeLinecap: "butt"}));

const svgA = panel({
  height: 320, marginTop: 30, marginBottom: 55,
  yDomain: [0.4, 1.805], yTicks: bTicks, yLabels: bTickLabels, yTitle: "b-value",
  yTitleDx: -42, xLabDy: 18, xTitleDy: 40.5, yLabDx: -6, marks: lineMarks
});
const svgB = panel({
  height: 338, marginTop: 35, marginBottom: 70,
  yDomain: [1, 4], yTicks: magTicks, yLabels: magTickLabels, yTitle: "Magnitude",
  yTitleDx: -44, xLabDy: 19.5, xTitleDy: 42, yLabDx: -5,
  marks: [Plot.dot(quakes, {x: d => yd(d[0]), y: d => d[1], r: 1.15, fill: "#000", stroke: "none"})]
});

const wrap = document.getElementById("wrap");
svgA.style.top = "0px";
svgB.style.top = "320px";
wrap.appendChild(svgA);
wrap.appendChild(svgB);

// panel labels
[["(a)", 16.5], ["(b)", 330.5]].forEach(([t, top]) => {
  const d = document.createElement("div");
  d.className = "plabel"; d.style.top = top + "px"; d.textContent = t;
  wrap.appendChild(d);
});

// legend
const lg = document.createElement("div");
lg.id = "legend";
const rowTops = [2, 18.5, 33];
seriesNames.forEach((name, i) => {
  const r = document.createElement("div");
  r.className = "row"; r.style.top = rowTops[i] + "px";
  const sw = document.createElement("div"); sw.className = "sw"; sw.style.background = seriesColors[i];
  const tx = document.createElement("div"); tx.className = "tx"; tx.textContent = name;
  r.appendChild(sw); r.appendChild(tx); lg.appendChild(r);
});
wrap.appendChild(lg);
</script>
</body></html>
